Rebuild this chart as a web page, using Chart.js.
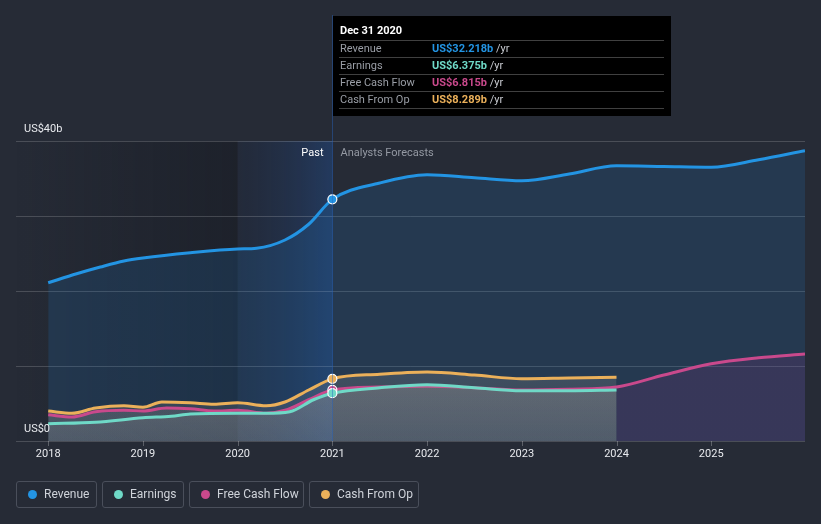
<!DOCTYPE html>
<html>
<head>
<meta charset="utf-8">
<script src="https://cdn.jsdelivr.net/npm/chart.js@4/dist/chart.umd.min.js"></script>
<style>
  html,body{margin:0;padding:0;background:#262b36;width:821px;height:524px;overflow:hidden;font-family:Roboto,"Open Sans",sans-serif;}
  #wrap{position:relative;width:821px;height:524px;}
  canvas{position:absolute;left:0;top:0;}
  .lg{position:absolute;top:481px;border:1px solid #4a4f5b;border-radius:3px;box-sizing:border-box;height:27px;color:#cfd3da;font-size:12px;line-height:25px;}
  .lg span.dot{position:absolute;left:11px;top:8px;width:9px;height:9px;border-radius:50%;}
  .lg span.t{position:absolute;left:27px;top:0;white-space:nowrap;}
</style>
</head>
<body>
<div id="wrap">
<canvas id="c" width="821" height="524"></canvas>
</div>
<script>
// ---- data (US$ billions, x = decimal year) ----
const revenueX = [2018, 2018.3, 2018.55, 2018.8, 2019, 2019.5, 2020, 2020.2, 2020.5, 2020.75, 2021, 2021.5, 2022, 2022.5, 2023, 2023.5, 2024, 2024.5, 2025, 2025.5, 2025.99];
const revenueY = [21.1, 22.3, 23.2, 24.0, 24.4, 25.1, 25.6, 25.7, 26.8, 28.9, 32.218, 34.4, 35.5, 35.1, 34.7, 35.6, 36.7, 36.6, 36.5, 37.5, 38.7];

const earningsX = [2018, 2018.5, 2019, 2019.3, 2019.5, 2020, 2020.3, 2020.55, 2020.8, 2021, 2021.5, 2022, 2022.5, 2023, 2023.5, 2024];
const earningsY = [2.3, 2.5, 3.1, 3.3, 3.6, 3.7, 3.7, 3.9, 5.5, 6.375, 7.1, 7.5, 7.1, 6.7, 6.7, 6.8];

const fcfX = [2018, 2018.25, 2018.5, 2018.8, 2019, 2019.25, 2019.5, 2019.75, 2020, 2020.3, 2020.5, 2020.75, 2021, 2021.5, 2022, 2022.5, 2023, 2023.5, 2024, 2024.5, 2025, 2025.5, 2025.99];
const fcfY = [3.5, 3.2, 3.9, 4.1, 4.0, 4.4, 4.3, 4.0, 4.1, 3.7, 4.1, 5.5, 6.815, 7.2, 7.3, 7.1, 6.8, 6.9, 7.2, 8.8, 10.3, 11.1, 11.6];

const cfoX = [2018, 2018.25, 2018.5, 2018.8, 2019, 2019.2, 2019.5, 2019.75, 2020, 2020.3, 2020.5, 2020.75, 2021, 2021.5, 2022, 2022.5, 2023, 2023.5, 2024];
const cfoY = [4.0, 3.7, 4.4, 4.7, 4.5, 5.2, 5.1, 4.9, 5.1, 4.7, 5.2, 6.8, 8.289, 8.9, 9.2, 8.8, 8.3, 8.4, 8.5];

const yearTicks = [2018, 2019, 2020, 2021, 2022, 2023, 2024, 2025];
const yGrid = [0, 10, 20, 30, 40];
const yLabels = {0: 'US$0', 40: 'US$40b'};
const seriesNames = ['Revenue', 'Earnings', 'Free Cash Flow', 'Cash From Op'];
const seriesColors = ['#2394e3', '#6fd9c7', '#c9498c', '#ebb05a'];
const tipTitle = 'Dec 31 2020';
const tipValues = ['US$32.218b', 'US$6.375b', 'US$6.815b', 'US$8.289b'];
const nowX = 2021;
const pastStart = 2020;
const forecastEnd = 2024;

function pts(xs, ys){ return xs.map((x,i)=>({x:x, y:ys[i]})); }

const FONT = 'Roboto, "Open Sans", sans-serif';

function grayGrad(chart, a){
  const ys = chart.scales.y;
  const g = chart.ctx.createLinearGradient(0, ys.getPixelForValue(9), 0, a.bottom);
  g.addColorStop(0, 'rgba(165,160,155,0.21)');
  g.addColorStop(1, 'rgba(165,160,160,0.11)');
  return g;
}
function grayFill(c){
  const chart = c.chart; const a = chart.chartArea;
  if(!a) return 'rgba(165,160,155,0.18)';
  return grayGrad(chart, a);
}
function fcfFill(c){
  const chart = c.chart; const a = chart.chartArea;
  if(!a) return 'rgba(165,160,155,0.18)';
  const xs = chart.scales.x;
  const p = (xs.getPixelForValue(forecastEnd) - a.left) / (a.right - a.left);
  const g = chart.ctx.createLinearGradient(a.left, 0, a.right, 0);
  g.addColorStop(0, 'rgba(165,160,155,0.17)');
  g.addColorStop(Math.max(0,p-0.0005), 'rgba(165,160,155,0.17)');
  g.addColorStop(Math.min(1,p+0.0005), 'rgba(140,50,130,0.18)');
  g.addColorStop(1, 'rgba(140,50,130,0.18)');
  return g;
}
function pointAtNow(c){ return (c.raw && c.raw.x === nowX) ? 4.5 : 0; }

const bgPlugin = {
  id:'bg',
  beforeDatasetsDraw(chart){
    const {ctx, chartArea:a, scales:{x, y}} = chart;
    ctx.save();
    // past shading
    const x20 = x.getPixelForValue(pastStart), x21 = x.getPixelForValue(nowX);
    let g = ctx.createLinearGradient(a.left, 0, x20, 0);
    g.addColorStop(0, 'rgba(10,12,18,0.0)');
    g.addColorStop(1, 'rgba(10,12,18,0.3)');
    ctx.fillStyle = g;
    ctx.fillRect(a.left, a.top, x20 - a.left, a.bottom - a.top);
    g = ctx.createLinearGradient(x20, 0, x21, 0);
    g.addColorStop(0, 'rgba(20,40,80,0.15)');
    g.addColorStop(1, 'rgba(30,90,180,0.32)');
    ctx.fillStyle = g;
    ctx.fillRect(x20, a.top, x21 - x20, a.bottom - a.top);
    // grid
    ctx.strokeStyle = 'rgba(255,255,255,0.17)';
    ctx.lineWidth = 1;
    yGrid.forEach(v=>{
      const py = Math.round(y.getPixelForValue(v)) + 0.5;
      ctx.beginPath(); ctx.moveTo(a.left, py); ctx.lineTo(a.right, py); ctx.stroke();
    });
    // x ticks
    ctx.strokeStyle = 'rgba(255,255,255,0.25)';
    yearTicks.forEach(v=>{
      const px = Math.round(x.getPixelForValue(v)) + 0.5;
      ctx.beginPath(); ctx.moveTo(px, a.bottom); ctx.lineTo(px, a.bottom + 5); ctx.stroke();
    });
    ctx.restore();
  },
  afterDatasetsDraw(chart){
    const {ctx, chartArea:a, scales:{x, y}} = chart;
    ctx.save();
    // vertical now line
    const xn = Math.round(x.getPixelForValue(nowX)) + 0.5;
    ctx.strokeStyle = 'rgba(40,100,190,0.45)';
    ctx.lineWidth = 1;
    ctx.beginPath(); ctx.moveTo(xn, 15); ctx.lineTo(xn, a.bottom); ctx.stroke();
    // y labels
    ctx.font = '11px ' + FONT;
    ctx.fillStyle = '#e8eaee';
    ctx.textBaseline = 'middle';
    ctx.textAlign = 'left';
    Object.keys(yLabels).forEach(k=>{
      const py = y.getPixelForValue(+k);
      ctx.fillText(yLabels[k], 24, py - 12);
    });
    // x labels
    ctx.textAlign = 'center';
    ctx.font = '11px ' + FONT;
    yearTicks.forEach(v=>{
      ctx.fillText(String(v), x.getPixelForValue(v), a.bottom + 13);
    });
    // Past / Analysts Forecasts
    ctx.font = '11px ' + FONT;
    ctx.textAlign = 'right';
    ctx.fillStyle = '#ffffff';
    ctx.fillText('Past', xn - 9, a.top + 12);
    ctx.textAlign = 'left';
    ctx.fillStyle = '#9499a3';
    ctx.fillText('Analysts Forecasts', xn + 8, a.top + 12);
    // tooltip box
    const bx = 333, by = 16, bw = 338, bh = 100;
    ctx.fillStyle = '#000000';
    ctx.fillRect(bx, by, bw, bh);
    ctx.font = 'bold 11px ' + FONT;
    ctx.fillStyle = '#ffffff';
    ctx.fillText(tipTitle, bx + 7, by + 15);
    const rowH = 17;
    ctx.strokeStyle = 'rgba(255,255,255,0.25)';
    for(let i=0;i<=seriesNames.length;i++){
      const ly = by + 24 + i*rowH + 0.5;
      ctx.beginPath(); ctx.moveTo(bx + 6, ly); ctx.lineTo(bx + bw - 7, ly); ctx.stroke();
    }
    seriesNames.forEach((n,i)=>{
      const ty = by + 24 + i*rowH + rowH/2 + 0.5;
      ctx.font = '11px ' + FONT;
      ctx.fillStyle = '#9a9ea6';
      ctx.fillText(n, bx + 7, ty);
      ctx.font = 'bold 11px ' + FONT;
      ctx.fillStyle = seriesColors[i];
      ctx.fillText(tipValues[i], bx + 99, ty);
      const w = ctx.measureText(tipValues[i]).width;
      ctx.font = '11px ' + FONT;
      ctx.fillStyle = '#c8cbd1';
      ctx.fillText(' /yr', bx + 99 + w, ty);
    });
    ctx.restore();
  }
};

const chart = new Chart(document.getElementById('c'), {
  type:'line',
  data:{
    datasets:[
      {label:seriesNames[3], data:pts(cfoX, cfoY), borderColor:seriesColors[3], backgroundColor:grayFill, fill:'origin', borderWidth:3, cubicInterpolationMode:'monotone', pointRadius:pointAtNow, pointBackgroundColor:seriesColors[3], pointBorderColor:'#ffffff', pointBorderWidth:1.2, order:3},
      {label:seriesNames[2], data:pts(fcfX, fcfY), borderColor:seriesColors[2], backgroundColor:fcfFill, fill:'origin', borderWidth:3, cubicInterpolationMode:'monotone', pointRadius:pointAtNow, pointBackgroundColor:seriesColors[2], pointBorderColor:'#ffffff', pointBorderWidth:1.2, order:2},
      {label:seriesNames[1], data:pts(earningsX, earningsY), borderColor:seriesColors[1], backgroundColor:grayFill, fill:'origin', borderWidth:3, cubicInterpolationMode:'monotone', pointRadius:pointAtNow, pointBackgroundColor:seriesColors[1], pointBorderColor:'#ffffff', pointBorderWidth:1.2, order:1},
      {label:seriesNames[0], data:pts(revenueX, revenueY), borderColor:seriesColors[0], backgroundColor:'rgba(35,120,200,0.18)', fill:'origin', borderWidth:3, cubicInterpolationMode:'monotone', pointRadius:pointAtNow, pointBackgroundColor:seriesColors[0], pointBorderColor:'#ffffff', pointBorderWidth:1.2, order:4}
    ]
  },
  options:{
    responsive:false,
    animation:false,
    layout:{padding:{left:16, right:16, top:141, bottom:83}},
    plugins:{legend:{display:false}, tooltip:{enabled:false}},
    scales:{
      x:{type:'linear', min:2017.66, max:2025.99, display:false},
      y:{type:'linear', min:0, max:40, display:false}
    }
  },
  plugins:[bgPlugin]
});

// HTML legend
const lgPos = [[16,81],[102,82],[189,115],[309,110]];
const wrap = document.getElementById('wrap');
seriesNames.forEach((n,i)=>{
  const d = document.createElement('div');
  d.className = 'lg';
  d.style.left = lgPos[i][0] + 'px';
  d.style.width = lgPos[i][1] + 'px';
  d.innerHTML = '<span class="dot" style="background:' + seriesColors[i] + '"></span><span class="t">' + n + '</span>';
  wrap.appendChild(d);
});
</script>
</body>
</html>
